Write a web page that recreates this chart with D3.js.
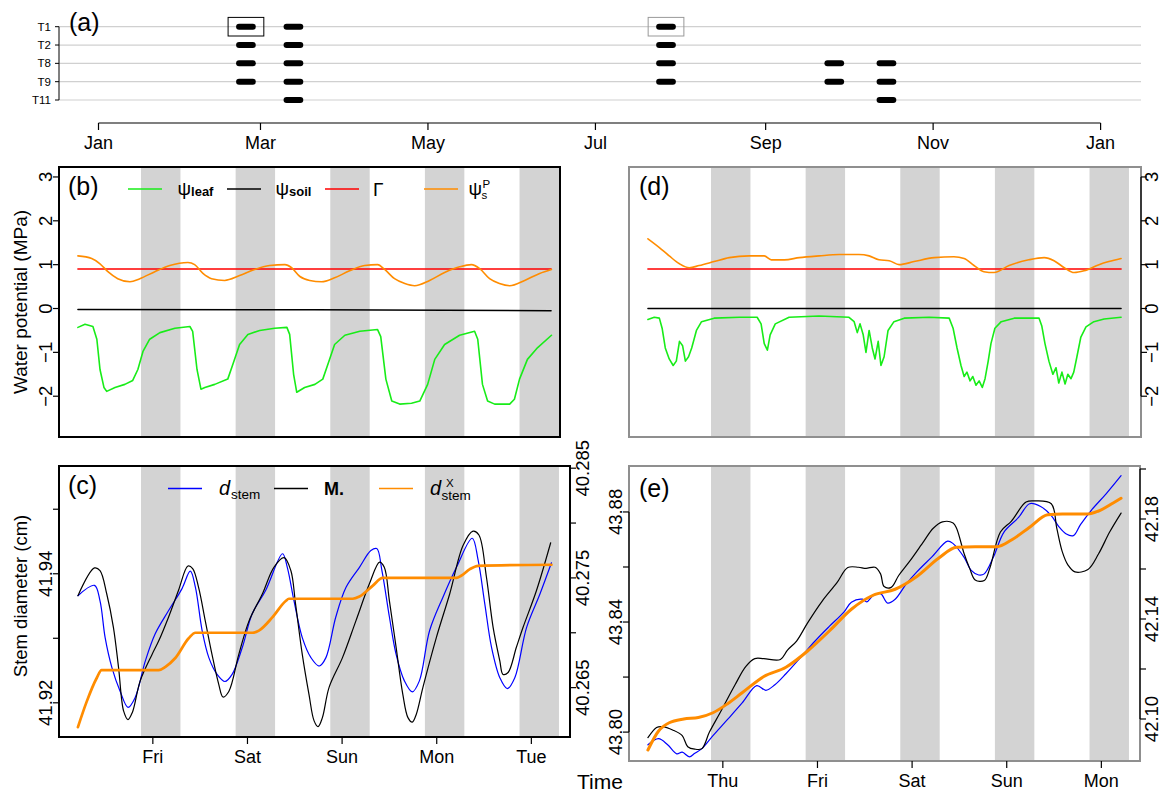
<!DOCTYPE html>
<html><head><meta charset="utf-8">
<script src="https://cdnjs.cloudflare.com/ajax/libs/d3/7.8.5/d3.min.js"></script>
<style>body{margin:0;background:#fff} svg{display:block} text{font-family:"Liberation Sans",Arial,Helvetica,sans-serif;fill:#000}</style>
</head><body><svg id="c" width="1161" height="792"></svg>
<script>
// ---------------- DATA ----------------
// Panel (a): measurement campaigns
const treeLabels = ["T1","T2","T8","T9","T11"];
const campStart = ["2019-02-21 05:00","2019-03-10 12:00","2019-07-24 05:00","2019-09-23 12:00","2019-10-12 12:00"];
const campEnd   = ["2019-02-26 05:00","2019-03-15 12:00","2019-07-29 05:00","2019-09-28 12:00","2019-10-17 12:00"];
const campTrees = [["T1","T2","T8","T9"],["T1","T2","T8","T9","T11"],["T1","T2","T8","T9"],["T8","T9"],["T8","T9","T11"]];
const monthTickDates = ["2019-01-01 00:00","2019-03-01 00:00","2019-05-01 00:00","2019-07-01 00:00","2019-09-01 00:00","2019-11-01 00:00","2020-01-01 00:00"];
const monthTickLabels = ["Jan","Mar","May","Jul","Sep","Nov","Jan"];

// time axis of panels b-e: hours relative to first labelled midnight
const leftDayTicks = [0,24,48,72,96];
const leftDayLabels = ["Fri","Sat","Sun","Mon","Tue"];
const rightDayLabels = ["Thu","Fri","Sat","Sun","Mon"];
const nightStart = [-3,21,45,69,93];
const nightEnd   = [7,31,55,79,103];

// Panel (b) water potentials (MPa) [hour, value]
const psiLeafB = [[-19,-0.43],[-17.2,-0.36],[-15.2,-0.41],[-14.2,-0.7],[-13.4,-1.39],[-12.4,-1.8],[-11.7,-1.89],[-9.6,-1.8],[-7.1,-1.73],[-5.1,-1.64],[-3.8,-1.39],[-2.5,-0.98],[-0.8,-0.7],[1.8,-0.55],[5.6,-0.45],[9.4,-0.41],[10.1,-0.52],[11.2,-1.39],[12.2,-1.84],[13.2,-1.8],[15.7,-1.73],[19.0,-1.61],[20.3,-1.27],[22.0,-0.82],[24.1,-0.59],[27.1,-0.5],[30.9,-0.45],[34.0,-0.43],[34.7,-0.59],[35.7,-1.5],[36.5,-1.91],[38.5,-1.8],[41.1,-1.73],[43.1,-1.61],[44.4,-1.27],[46.1,-0.82],[48.7,-0.61],[52.5,-0.52],[57.0,-0.48],[57.8,-0.64],[59.1,-1.61],[60.6,-2.11],[62.6,-2.18],[65.6,-2.16],[67.7,-2.11],[69.7,-1.73],[71.5,-1.16],[74.0,-0.82],[77.8,-0.61],[81.6,-0.52],[82.4,-0.7],[83.6,-1.73],[84.9,-2.11],[86.7,-2.18],[90.5,-2.18],[91.7,-2.07],[93.0,-1.61],[95.0,-1.16],[97.6,-0.89],[101.1,-0.61]];
const psiSoilB = [[-19,-0.02],[41,-0.03],[101,-0.05]];
const gammaB = [[-19,0.9],[101,0.9]];
const psiSPB = [[-19,1.2],[-15.5,1.14],[-13.4,1.02],[-11.4,0.84],[-8.9,0.68],[-5.8,0.61],[-3.3,0.68],[0.5,0.84],[4.3,0.98],[8.9,1.05],[10.6,1.0],[12.7,0.8],[14.9,0.68],[18.2,0.64],[22.0,0.75],[25.8,0.89],[29.6,0.98],[33.5,1.0],[35.2,0.93],[37.3,0.73],[39.8,0.64],[42.8,0.61],[46.1,0.7],[49.9,0.86],[53.7,0.98],[57.0,1.0],[58.8,0.89],[61.3,0.68],[63.9,0.57],[66.4,0.52],[70.2,0.64],[74.0,0.82],[77.8,0.95],[80.8,1.0],[82.9,0.91],[85.4,0.68],[87.9,0.57],[90.5,0.52],[94.3,0.64],[98.1,0.8],[101.1,0.89]];

// Panel (d)
const psiLeafD = [[-19,-0.25],[-17.4,-0.2],[-16.1,-0.22],[-15.4,-0.45],[-14.6,-0.9],[-13.6,-1.15],[-12.6,-1.3],[-11.8,-1.2],[-11.0,-0.75],[-10.2,-0.85],[-9.5,-1.2],[-8.7,-1.1],[-7.9,-0.9],[-6.7,-0.5],[-5.4,-0.3],[-2.2,-0.22],[4.2,-0.2],[8.7,-0.2],[9.7,-0.35],[10.5,-0.8],[11.3,-0.95],[12.0,-0.6],[13.3,-0.35],[16.8,-0.2],[24.4,-0.17],[32.0,-0.2],[33.3,-0.3],[34.1,-0.55],[34.8,-0.35],[35.6,-0.6],[36.3,-1.0],[37.1,-0.5],[37.9,-0.9],[38.6,-1.15],[39.4,-0.75],[40.1,-1.3],[40.9,-1.1],[41.9,-0.5],[43.4,-0.3],[46.0,-0.22],[52.3,-0.2],[57.4,-0.22],[58.4,-0.45],[59.4,-0.9],[60.4,-1.3],[61.2,-1.55],[61.9,-1.45],[62.7,-1.65],[63.4,-1.55],[64.2,-1.75],[65.0,-1.65],[65.8,-1.8],[66.5,-1.6],[67.3,-1.2],[68.0,-0.8],[69.0,-0.45],[70.6,-0.3],[73.9,-0.22],[80.2,-0.22],[80.9,-0.4],[81.7,-0.8],[82.7,-1.2],[83.7,-1.5],[84.5,-1.35],[85.2,-1.7],[86.0,-1.45],[86.8,-1.72],[87.5,-1.5],[88.3,-1.6],[89.0,-1.45],[89.8,-1.1],[90.8,-0.65],[92.1,-0.42],[94.1,-0.3],[96.7,-0.24],[101,-0.2]];
const psiSoilD = [[-19,0.0],[101,0.0]];
const gammaD = [[-19,0.9],[101,0.9]];
const psiSPD = [[-19,1.59],[-16.1,1.39],[-13.6,1.2],[-11.0,1.02],[-8.5,0.93],[-6.0,0.98],[-2.2,1.07],[1.6,1.16],[6.7,1.2],[10.5,1.2],[12.3,1.11],[15.6,1.11],[19.4,1.16],[24.4,1.2],[29.5,1.23],[34.5,1.23],[37.1,1.2],[39.6,1.11],[42.2,1.09],[44.7,1.0],[48.5,1.07],[53.6,1.16],[58.6,1.18],[61.2,1.14],[63.7,0.98],[66.2,0.84],[68.8,0.82],[72.6,0.98],[77.6,1.11],[81.5,1.16],[84.0,1.09],[86.6,0.93],[89.1,0.82],[91.6,0.86],[95.4,1.0],[97.9,1.07],[101,1.14]];

// Panel (c) stem diameter (cm)
const dStemC = [[-19,41.9366],[-14.8,41.9382],[-13.4,41.9358],[-12.1,41.9301],[-10.4,41.9255],[-8.3,41.9218],[-6.3,41.9193],[-4.5,41.9208],[-1.9,41.9265],[0.6,41.9307],[4.0,41.9343],[7.4,41.9377],[9.5,41.9404],[10.8,41.9379],[12.5,41.9312],[14.2,41.9270],[16.3,41.9244],[18.3,41.9233],[20.1,41.9244],[22.7,41.9286],[25.2,41.9338],[28.6,41.9374],[32.9,41.9431],[34.1,41.9410],[35.8,41.9358],[37.9,41.9301],[40.1,41.9270],[42.2,41.9257],[43.9,41.9270],[46.4,41.9333],[49.0,41.9379],[52.4,41.9410],[55.3,41.9436],[56.8,41.9439],[58.1,41.9405],[60.0,41.9333],[61.7,41.9275],[63.8,41.9234],[65.8,41.9217],[67.6,41.9234],[70.2,41.9312],[73.6,41.9364],[77.0,41.9410],[81.0,41.9455],[82.5,41.9421],[84.2,41.9353],[85.9,41.9286],[88.0,41.9239],[89.9,41.9222],[91.8,41.9239],[94.8,41.9317],[98.2,41.9369],[101.1,41.9417]];
const mC = [[-19,41.9366],[-14.8,41.9409],[-13.4,41.9405],[-11.7,41.9369],[-10.0,41.9317],[-8.7,41.9255],[-7.4,41.9187],[-6.3,41.9174],[-5.2,41.9185],[-3.2,41.9234],[-0.2,41.9275],[1.5,41.9296],[4.0,41.9333],[6.5,41.9374],[8.9,41.9412],[10.1,41.9408],[11.6,41.9379],[13.3,41.9327],[15.0,41.9275],[16.7,41.9229],[17.8,41.9209],[19.3,41.9218],[21.8,41.9275],[24.4,41.9327],[27.8,41.9369],[30.7,41.9410],[33.3,41.9425],[35.0,41.9405],[36.2,41.9353],[37.9,41.9275],[39.6,41.9213],[40.9,41.9172],[41.9,41.9163],[43.0,41.9177],[44.7,41.9224],[48.1,41.9270],[51.5,41.9327],[54.9,41.9384],[57.5,41.9418],[58.7,41.9410],[60.0,41.9358],[61.7,41.9286],[63.4,41.9213],[64.7,41.9177],[65.8,41.9170],[66.8,41.9182],[68.5,41.9224],[71.9,41.9301],[75.3,41.9369],[78.7,41.9444],[81.2,41.9466],[82.7,41.9460],[84.6,41.9395],[86.3,41.9317],[88.0,41.9265],[88.8,41.9244],[90.1,41.9247],[92.2,41.9286],[93.9,41.9317],[97.3,41.9374],[100.9,41.9448]];
const dXC = [[-19,40.2614],[-16.8,40.2637],[-14.2,40.2659],[-13.0,40.2666],[1.5,40.2666],[3.2,40.2669],[5.7,40.2677],[9.1,40.2695],[10.8,40.2700],[25.2,40.2700],[26.9,40.2702],[30.3,40.2714],[33.7,40.2729],[34.5,40.2731],[50.7,40.2731],[52.4,40.2733],[55.8,40.2743],[58.3,40.2750],[77.0,40.2750],[78.2,40.2752],[80.4,40.2758],[82.5,40.2761],[101.1,40.2762]];

// Panel (e)
const dStemE = [[-19,43.7954],[-16.3,43.7976],[-14.0,43.7954],[-11.7,43.7921],[-10.3,43.7927],[-8.5,43.7910],[-7.1,43.7923],[-5.3,43.7940],[-2.5,43.7987],[1.2,43.8046],[4.9,43.8106],[8.6,43.8169],[10.9,43.8152],[13.2,43.8172],[16.0,43.8212],[19.7,43.8271],[23.4,43.8331],[27.0,43.8384],[30.7,43.8436],[32.6,43.8472],[35.4,43.8483],[36.5,43.8473],[38.1,43.8496],[40.0,43.8503],[41.8,43.8469],[43.7,43.8483],[46.4,43.8536],[49.2,43.8582],[52.9,43.8635],[57.0,43.8694],[58.4,43.8685],[61.2,43.8635],[63.0,43.8588],[64.9,43.8571],[66.3,43.8575],[68.6,43.8635],[71.3,43.8727],[75.0,43.8780],[77.8,43.8830],[80.6,43.8820],[83.3,43.8787],[85.2,43.8747],[87.0,43.8721],[88.9,43.8714],[90.7,43.8754],[93.5,43.8807],[97.2,43.8866],[101,43.8932]];
const mE = [[-19,43.7980],[-16.8,43.8017],[-15.4,43.8020],[-12.6,43.8007],[-10.3,43.7987],[-8.9,43.7947],[-7.1,43.7938],[-5.3,43.7940],[-3.4,43.8000],[-0.6,43.8073],[3.1,43.8172],[5.8,43.8238],[8.1,43.8267],[10.4,43.8267],[14.6,43.8264],[16.4,43.8298],[18.7,43.8331],[21.5,43.8397],[25.2,43.8476],[28.9,43.8542],[31.7,43.8598],[34.4,43.8599],[36.3,43.8595],[38.6,43.8599],[40.0,43.8575],[40.9,43.8529],[42.7,43.8526],[44.6,43.8569],[47.4,43.8621],[51.0,43.8694],[53.3,43.8740],[55.7,43.8764],[58.4,43.8760],[59.3,43.8740],[61.2,43.8648],[62.6,43.8595],[64.0,43.8553],[66.3,43.8551],[67.7,43.8595],[70.4,43.8727],[73.2,43.8767],[76.9,43.8836],[79.2,43.8840],[83.3,43.8830],[84.7,43.8740],[86.1,43.8655],[87.5,43.8608],[89.3,43.8582],[92.6,43.8591],[95.3,43.8648],[98.1,43.8727],[101,43.8796]];
const dXE = [[-19,42.0876],[-16.3,42.0952],[-13.6,42.0985],[-9.9,42.1000],[-6.2,42.1006],[-2.5,42.1025],[1.2,42.1061],[4.9,42.1105],[10.4,42.1170],[16.0,42.1207],[21.5,42.1272],[27.0,42.1352],[32.6,42.1439],[38.1,42.1495],[43.7,42.1519],[49.2,42.1570],[54.7,42.1643],[59.3,42.1687],[64.0,42.1689],[69.5,42.1689],[73.2,42.1716],[77.8,42.1767],[82.4,42.1817],[86.1,42.1820],[92.6,42.1820],[95.3,42.1832],[99.0,42.1864],[101,42.1883]];

// axis ticks
const wpTicks = [-2,-1,0,1,2,3];
const cLeftTicks = [41.92,41.93,41.94,41.95], cLeftLabels = ["41.92","","41.94",""];
const cRightTicks = [40.265,40.27,40.275,40.28,40.285], cRightLabels = ["40.265","","40.275","","40.285"];
const eLeftTicks = [43.80,43.82,43.84,43.86,43.88], eLeftLabels = ["43.80","","43.84","","43.88"];
const eRightTicks = [42.10,42.12,42.14,42.16,42.18,42.20], eRightLabels = ["42.10","","42.14","","42.18",""];

// ---------------- DRAW ----------------
const svg = d3.select("#c");
const parseT = d3.timeParse("%Y-%m-%d %H:%M");
const GREEN="#18ec18", ORANGE="#ff8c00", BAND="#d3d3d3", GREYFRAME="#8f8f8f";
const fmtMinus = s => s.replace("-", "\u2212");

// ---- panel (a)
const xA = d3.scaleTime().domain([parseT(monthTickDates[0]), parseT(monthTickDates[6])]).range([98.5, 1100.6]);
const yA = d3.scalePoint().domain(treeLabels).range([26.7, 100]);
const gA = svg.append("g");
treeLabels.forEach(t => {
  gA.append("line").attr("x1",59).attr("x2",1141).attr("y1",yA(t)).attr("y2",yA(t)).attr("stroke","#d0d0d0").attr("stroke-width",1.2);
  gA.append("line").attr("x1",55).attr("x2",59).attr("y1",yA(t)).attr("y2",yA(t)).attr("stroke","#000");
  gA.append("text").attr("x",51).attr("y",yA(t)+4).attr("text-anchor","end").attr("font-size",11.5).text(t);
});
gA.append("line").attr("x1",59).attr("x2",59).attr("y1",yA("T1")).attr("y2",yA("T11")).attr("stroke","#000");
campStart.forEach((s,i) => {
  campTrees[i].forEach(t => {
    gA.append("line").attr("x1",xA(parseT(s))).attr("x2",xA(parseT(campEnd[i])))
      .attr("y1",yA(t)).attr("y2",yA(t)).attr("stroke","#000").attr("stroke-width",6).attr("stroke-linecap","round");
  });
});
[[0,"#000"],[2,"#999"]].forEach(([i,c]) => {
  const x0 = xA(parseT(campStart[i]))-11, x1 = xA(parseT(campEnd[i]))+11;
  gA.append("rect").attr("x",x0).attr("y",yA("T1")-9.3).attr("width",x1-x0).attr("height",18.6)
    .attr("fill","none").attr("stroke",c).attr("stroke-width",1);
});
gA.append("line").attr("x1",xA(parseT(monthTickDates[0]))).attr("x2",xA(parseT(monthTickDates[6]))).attr("y1",123).attr("y2",123).attr("stroke","#000").attr("stroke-width",1.2);
monthTickDates.forEach((d,i) => {
  const x = xA(parseT(d));
  gA.append("line").attr("x1",x).attr("x2",x).attr("y1",123).attr("y2",130).attr("stroke","#000").attr("stroke-width",1.2);
  gA.append("text").attr("x",x).attr("y",149).attr("text-anchor","middle").attr("font-size",18).text(monthTickLabels[i]);
});
gA.append("text").attr("x",69).attr("y",31).attr("font-size",25).text("(a)");

// ---- scales for b-e
const xDom = [-23.8, 105.8];
const xL = d3.scaleLinear().domain(xDom).range([59, 570]);
const xR = d3.scaleLinear().domain(xDom).range([629, 1140]);
const yB = d3.scaleLinear().domain([-2.93, 3.227]).range([437, 167]);
const yD = d3.scaleLinear().domain([-2.93, 3.227]).range([437, 167]);
const yCL = d3.scaleLinear().domain([41.9147, 41.9567]).range([737, 466]);
const yCR = d3.scaleLinear().domain([40.2605, 40.2852]).range([737, 466]);
const yEL = d3.scaleLinear().domain([43.7895, 43.8967]).range([761, 466]);
const yER = d3.scaleLinear().domain([42.0832, 42.2012]).range([761, 466]);

function bands(g, xs, top, bottom, xmax) {
  nightStart.forEach((s,i) => {
    const x0 = xs(s), x1 = Math.min(xs(nightEnd[i]), xmax);
    g.append("rect").attr("x",x0).attr("y",top).attr("width",x1-x0).attr("height",bottom-top).attr("fill",BAND);
  });
}
function path(g, data, xs, ys, color, w, curve) {
  g.append("path").datum(data)
    .attr("d", d3.line().x(d=>xs(d[0])).y(d=>ys(d[1])).curve(curve || d3.curveLinear))
    .attr("fill","none").attr("stroke",color).attr("stroke-width",w).attr("stroke-linejoin","round").attr("stroke-linecap","round");
}
function frame(g, x0, y0, x1, y1, color) {
  g.append("rect").attr("x",x0).attr("y",y0).attr("width",x1-x0).attr("height",y1-y0).attr("fill","none").attr("stroke",color).attr("stroke-width",2);
}
function yAxis(g, ys, ticks, labels, x0, side) {
  g.append("line").attr("x1",x0).attr("x2",x0).attr("y1",ys(ticks[0])).attr("y2",ys(ticks[ticks.length-1])).attr("stroke","#000").attr("stroke-width",1.2);
  ticks.forEach((t,i) => {
    const y = ys(t);
    g.append("line").attr("x1",x0).attr("x2",x0+side*6).attr("y1",y).attr("y2",y).attr("stroke","#000").attr("stroke-width",1.2);
    if (labels[i]) {
      const bx = side < 0 ? x0 - 7 : Math.min(x0 + 19, 1158);
      g.append("text").attr("transform",`translate(${bx},${y}) rotate(-90)`).attr("text-anchor","middle").attr("font-size",18.5).text(fmtMinus(labels[i]));
    }
  });
}
function xAxis(g, xs, y0, labels) {
  leftDayTicks.forEach((t,i) => {
    const x = xs(t);
    g.append("line").attr("x1",x).attr("x2",x).attr("y1",y0).attr("y2",y0+7).attr("stroke","#000").attr("stroke-width",1.2);
    g.append("text").attr("x",x).attr("y",y0+26).attr("text-anchor","middle").attr("font-size",18).text(labels[i]);
  });
}

// ---- panel (b)
const gB = svg.append("g");
bands(gB, xL, 167, 437, 560);
path(gB, psiLeafB, xL, yB, GREEN, 1.6);
path(gB, psiSoilB, xL, yB, "#000", 1.5);
path(gB, gammaB, xL, yB, "#ff0000", 1.6);
path(gB, psiSPB, xL, yB, ORANGE, 1.6, d3.curveMonotoneX);
frame(gB, 59, 167, 560, 437, "#000");
yAxis(gB, yB, wpTicks, wpTicks.map(String), 59, -1);
gB.append("text").attr("x",68).attr("y",195).attr("font-size",25).text("(b)");
// legend (b)
[[128,GREEN],[227,"#000"],[325,"#ff0000"],[424,ORANGE]].forEach(([x,c]) =>
  gB.append("line").attr("x1",x).attr("x2",x+34).attr("y1",189).attr("y2",189).attr("stroke",c).attr("stroke-width",1.6));
function psiLabel(g, x, sub) {
  const t = g.append("text").attr("x",x).attr("y",195);
  t.append("tspan").attr("font-size",19).text("\u03C8");
  t.append("tspan").attr("font-size",13).attr("font-weight","bold").attr("dy",1).text(sub);
}
psiLabel(gB, 177.5, "leaf");
psiLabel(gB, 275.5, "soil");
gB.append("text").attr("x",373).attr("y",196).attr("font-size",19).attr("font-family","'Liberation Serif','DejaVu Serif',serif").text("\u0393");
gB.append("text").attr("x",468.5).attr("y",195).attr("font-size",19).text("\u03C8");
gB.append("text").attr("x",481.5).attr("y",199).attr("font-size",11.5).text("s");
gB.append("text").attr("x",482.5).attr("y",188).attr("font-size",11.5).text("P");

// ---- panel (d)
const gD = svg.append("g");
bands(gD, xR, 167, 437, 1141);
path(gD, psiLeafD, xR, yD, GREEN, 1.6);
path(gD, psiSoilD, xR, yD, "#000", 1.5);
path(gD, gammaD, xR, yD, "#ff0000", 1.6);
path(gD, psiSPD, xR, yD, ORANGE, 1.6, d3.curveMonotoneX);
frame(gD, 629, 167, 1141, 437, GREYFRAME);
yAxis(gD, yD, wpTicks, wpTicks.map(String), 1141, 1);
gD.append("text").attr("x",639).attr("y",195).attr("font-size",25).text("(d)");

// ---- panel (c)
const gC = svg.append("g");
bands(gC, xL, 466, 737, 570);
path(gC, dStemC, xL, yCL, "#0000ff", 1.2, d3.curveCatmullRom.alpha(0.5));
path(gC, mC, xL, yCL, "#000", 1.2, d3.curveCatmullRom.alpha(0.5));
path(gC, dXC, xL, yCR, ORANGE, 2.7, d3.curveMonotoneX);
frame(gC, 59, 466, 570, 737, "#000");
yAxis(gC, yCL, cLeftTicks, cLeftLabels, 59, -1);
yAxis(gC, yCR, cRightTicks, cRightLabels, 570, 1);
xAxis(gC, xL, 737, leftDayLabels);
gC.append("text").attr("x",68).attr("y",494).attr("font-size",25).text("(c)");
// legend (c)
[[168,"#0000ff"],[274,"#000"],[379,ORANGE]].forEach(([x,c]) =>
  gC.append("line").attr("x1",x).attr("x2",x+34).attr("y1",488.5).attr("y2",488.5).attr("stroke",c).attr("stroke-width",1.5));
gC.append("text").attr("x",219).attr("y",495).attr("font-size",20).attr("font-style","italic").text("d");
gC.append("text").attr("x",231).attr("y",499).attr("font-size",13.5).text("stem");
gC.append("text").attr("x",324).attr("y",495).attr("font-size",18).attr("font-weight","bold").text("M.");
gC.append("text").attr("x",430).attr("y",495).attr("font-size",20).attr("font-style","italic").text("d");
gC.append("text").attr("x",446).attr("y",487).attr("font-size",11.5).text("X");
gC.append("text").attr("x",441.5).attr("y",500).attr("font-size",13.5).text("stem");

// ---- panel (e)
const gE = svg.append("g");
bands(gE, xR, 466, 761, 1140);
path(gE, dStemE, xR, yEL, "#0000ff", 1.2, d3.curveCatmullRom.alpha(0.5));
path(gE, mE, xR, yEL, "#000", 1.2, d3.curveCatmullRom.alpha(0.5));
path(gE, dXE, xR, yER, ORANGE, 3, d3.curveMonotoneX);
frame(gE, 629, 466, 1140, 761, GREYFRAME);
yAxis(gE, yEL, eLeftTicks, eLeftLabels, 629, -1);
yAxis(gE, yER, eRightTicks, eRightLabels, 1140, 1);
xAxis(gE, xR, 761, rightDayLabels);
gE.append("text").attr("x",639).attr("y",497).attr("font-size",25).text("(e)");

// ---- shared axis titles
svg.append("text").attr("transform","translate(27,302) rotate(-90)").attr("text-anchor","middle").attr("font-size",19).text("Water potential (MPa)");
svg.append("text").attr("transform","translate(27,596) rotate(-90)").attr("text-anchor","middle").attr("font-size",18.5).text("Stem diameter (cm)");
svg.append("text").attr("x",600).attr("y",789).attr("text-anchor","middle").attr("font-size",21).text("Time");
</script></body></html>
